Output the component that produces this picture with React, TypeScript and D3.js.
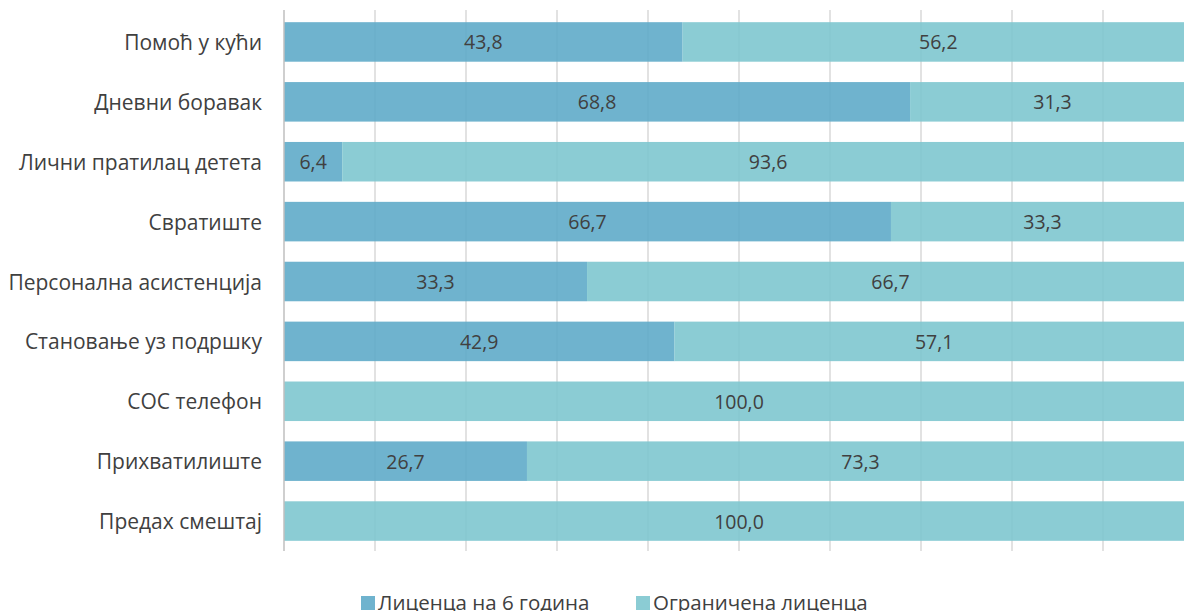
import React from "react";
import * as d3 from "d3";

const categories = [
  "Помоћ у кући",
  "Дневни боравак",
  "Лични пратилац детета",
  "Свратиште",
  "Персонална асистенција",
  "Становање уз подршку",
  "СОС телефон",
  "Прихватилиште",
  "Предах смештај",
];
const license6 = [43.8, 68.8, 6.4, 66.7, 33.3, 42.9, 0, 26.7, 0];
const limited = [56.2, 31.3, 93.6, 33.3, 66.7, 57.1, 100, 73.3, 100];
const seriesNames = ["Лиценца на 6 година", "Ограничена лиценца"];
const xTicks = [0, 10, 20, 30, 40, 50, 60, 70, 80, 90, 100];

const W = 1184;
const H = 611;
const colors = ["#5FABC9", "#7EC6CF"];
const legendColors = ["#6FB3CE", "#8BCCD4"];
const textColor = "#404040";
const font = "'Open Sans', sans-serif";

export default function App() {
  const x = d3.scaleLinear().domain([0, 100]).range([284, 1194]);
  const y = d3.scaleBand().domain(categories).range([12, 551]).paddingInner(0.34).paddingOuter(0.17);
  const fmt = (v: number) => v.toFixed(1).replace(".", ",");
  const bh = y.bandwidth();

  return (
    <svg width={W} height={H} style={{ position: "absolute", left: 0, top: 0 }} fontFamily={font}>
      <rect width={W} height={H} fill="#fff" />
      {xTicks.slice(1).map((t) => (
        <line key={t} x1={x(t)} x2={x(t)} y1={10} y2={551} stroke="#D9D9D9" strokeWidth={1.5} />
      ))}
      {categories.map((c, i) => {
        const y0 = y(c)!;
        const a = license6[i];
        const b = limited[i];
        return (
          <g key={c} fillOpacity={0.9}>
            {a > 0 && <rect x={x(0)} y={y0} width={x(a) - x(0)} height={bh} fill={colors[0]} />}
            <rect x={x(a)} y={y0} width={x(a + b) - x(a)} height={bh} fill={colors[1]} />
          </g>
        );
      })}
      <line x1={x(0)} x2={x(0)} y1={10} y2={551} stroke="#BFBFBF" strokeWidth={1.5} />
      {categories.map((c, i) => {
        const yc = y(c)! + bh / 2;
        const a = license6[i];
        const b = limited[i];
        return (
          <g key={"l" + c} fill={textColor}>
            <text x={262} y={yc} fontSize={21} textAnchor="end" dominantBaseline="central">{c}</text>
            {a > 0 && (
              <text x={(x(0) + x(a)) / 2} y={yc} fontSize={19.5} textAnchor="middle" dominantBaseline="central">{fmt(a)}</text>
            )}
            <text x={(x(a) + x(a + b)) / 2} y={yc} fontSize={19.5} textAnchor="middle" dominantBaseline="central">{fmt(b)}</text>
          </g>
        );
      })}
      <g fontSize={20.5} fill={textColor}>
        <rect x={361} y={596} width={14} height={14} fill={legendColors[0]} />
        <text x={378} y={602} dominantBaseline="central">{seriesNames[0]}</text>
        <rect x={636} y={596} width={14} height={14} fill={legendColors[1]} />
        <text x={653} y={602} dominantBaseline="central">{seriesNames[1]}</text>
      </g>
    </svg>
  );
}
